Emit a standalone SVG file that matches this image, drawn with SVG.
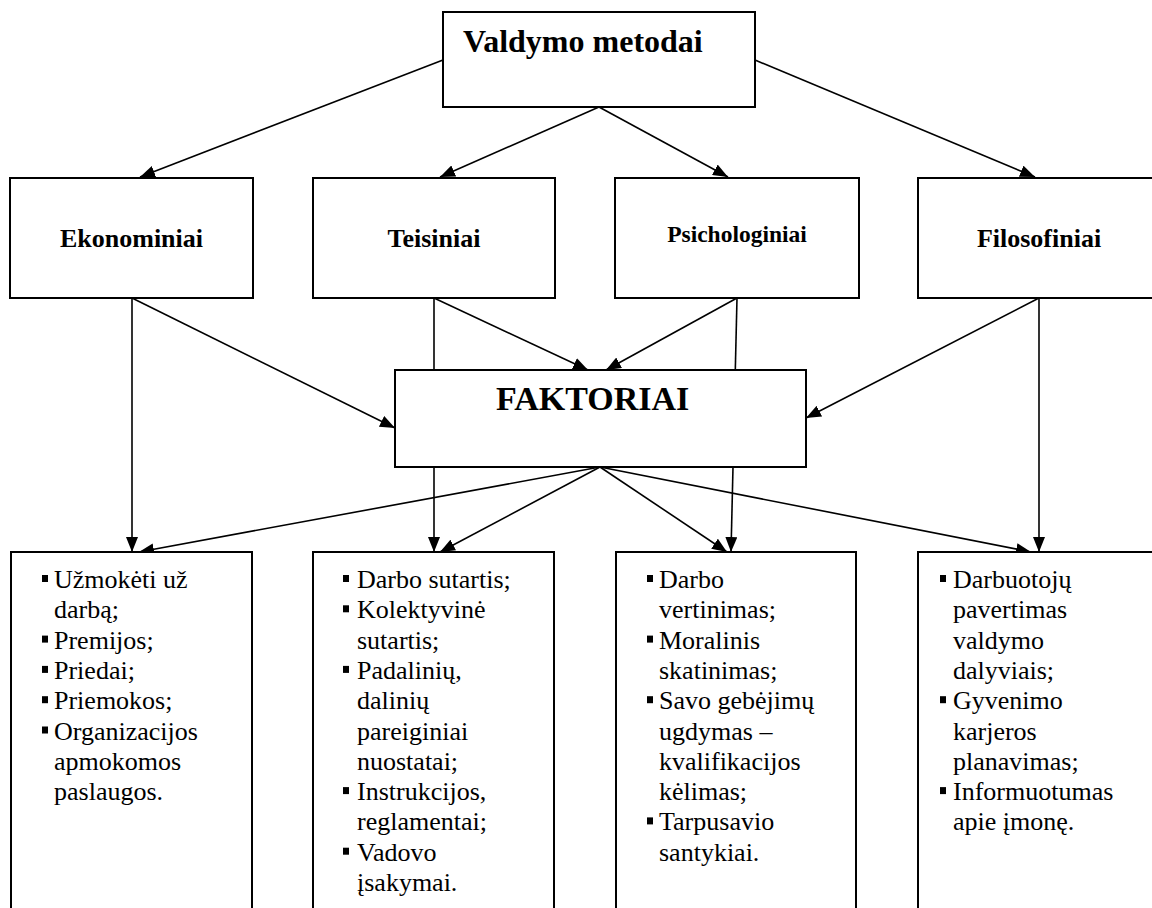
<svg xmlns="http://www.w3.org/2000/svg" width="1152" height="908" viewBox="0 0 1152 908">
<style>
.box{fill:#fff;stroke:#000;stroke-width:2}
.c{fill:none;stroke:#000;stroke-width:1.6}
.t{font-family:"Liberation Serif","Times New Roman",serif;fill:#000}
.b{font-weight:bold}
.li{font-size:26px}
.bul{fill:#000}
</style>
<defs>
<marker id="ah" markerUnits="userSpaceOnUse" markerWidth="16" markerHeight="12" refX="15" refY="6" orient="auto">
<path d="M0,0 L15,6 L0,12 z" fill="#000"/>
</marker>
</defs>
<g id="connectors">
<line class="c" x1="443" y1="60" x2="140" y2="177" marker-end="url(#ah)"/>
<line class="c" x1="599" y1="107" x2="440" y2="177" marker-end="url(#ah)"/>
<line class="c" x1="599" y1="107" x2="728" y2="177" marker-end="url(#ah)"/>
<line class="c" x1="755" y1="60" x2="1035" y2="177" marker-end="url(#ah)"/>
<line class="c" x1="132" y1="298" x2="132" y2="552" marker-end="url(#ah)"/>
<line class="c" x1="132" y1="298" x2="395" y2="428" marker-end="url(#ah)"/>
<line class="c" x1="434" y1="298" x2="434" y2="552" marker-end="url(#ah)"/>
<line class="c" x1="434" y1="298" x2="588" y2="370" marker-end="url(#ah)"/>
<line class="c" x1="737" y1="298" x2="731" y2="552" marker-end="url(#ah)"/>
<line class="c" x1="737" y1="298" x2="606" y2="370" marker-end="url(#ah)"/>
<line class="c" x1="1039" y1="298" x2="1039" y2="552" marker-end="url(#ah)"/>
<line class="c" x1="1039" y1="298" x2="806" y2="418" marker-end="url(#ah)"/>
<line class="c" x1="600" y1="467" x2="139" y2="552" marker-end="url(#ah)"/>
<line class="c" x1="600" y1="467" x2="440" y2="552" marker-end="url(#ah)"/>
<line class="c" x1="600" y1="467" x2="727" y2="552" marker-end="url(#ah)"/>
<line class="c" x1="600" y1="467" x2="1031" y2="552" marker-end="url(#ah)"/>
</g>
<g id="valdymo">
<rect class="box" x="443" y="12" width="312" height="95"/>
<text class="t b" x="463" y="52" font-size="32">Valdymo metodai</text>
</g>
<g id="ekonominiai">
<rect class="box" x="10" y="178" width="243" height="120"/>
<text class="t b" x="131.5" y="247" font-size="26" text-anchor="middle">Ekonominiai</text>
</g>
<g id="teisiniai">
<rect class="box" x="313" y="178" width="242" height="120"/>
<text class="t b" x="434" y="247" font-size="26" text-anchor="middle">Teisiniai</text>
</g>
<g id="psichologiniai">
<rect class="box" x="615" y="178" width="244" height="120"/>
<text class="t b" x="737" y="242" font-size="23.5" text-anchor="middle">Psichologiniai</text>
</g>
<g id="filosofiniai">
<rect class="box" x="918" y="178" width="242" height="120"/>
<text class="t b" x="1039" y="247" font-size="26" text-anchor="middle">Filosofiniai</text>
</g>
<g id="faktoriai">
<rect class="box" x="395" y="370" width="411" height="97"/>
<text class="t b" x="496" y="410" font-size="34">FAKTORIAI</text>
</g>
<g id="list-ekonominiai">
<rect class="box" x="11" y="552" width="241" height="370"/>
<rect class="bul" x="42" y="575" width="6" height="7"/>
<rect class="bul" x="42" y="635.6" width="6" height="7"/>
<rect class="bul" x="42" y="665.9" width="6" height="7"/>
<rect class="bul" x="42" y="696.2" width="6" height="7"/>
<rect class="bul" x="42" y="726.5" width="6" height="7"/>
<text class="t li"><tspan x="54" y="588">Užmokėti už</tspan><tspan x="54" y="618.3">darbą;</tspan><tspan x="54" y="648.6">Premijos;</tspan><tspan x="54" y="678.9">Priedai;</tspan><tspan x="54" y="709.2">Priemokos;</tspan><tspan x="54" y="739.5">Organizacijos</tspan><tspan x="54" y="769.8">apmokomos</tspan><tspan x="54" y="800.1">paslaugos.</tspan></text>
</g>
<g id="list-teisiniai">
<rect class="box" x="313" y="552" width="241" height="370"/>
<rect class="bul" x="343" y="575" width="6" height="7"/>
<rect class="bul" x="343" y="605.3" width="6" height="7"/>
<rect class="bul" x="343" y="665.9" width="6" height="7"/>
<rect class="bul" x="343" y="787.1" width="6" height="7"/>
<rect class="bul" x="343" y="847.7" width="6" height="7"/>
<text class="t li"><tspan x="357" y="588">Darbo sutartis;</tspan><tspan x="357" y="618.3">Kolektyvinė</tspan><tspan x="357" y="648.6">sutartis;</tspan><tspan x="357" y="678.9">Padalinių,</tspan><tspan x="357" y="709.2">dalinių</tspan><tspan x="357" y="739.5">pareiginiai</tspan><tspan x="357" y="769.8">nuostatai;</tspan><tspan x="357" y="800.1">Instrukcijos,</tspan><tspan x="357" y="830.4">reglamentai;</tspan><tspan x="357" y="860.7">Vadovo</tspan><tspan x="357" y="891">įsakymai.</tspan></text>
</g>
<g id="list-psichologiniai">
<rect class="box" x="616" y="552" width="240" height="370"/>
<rect class="bul" x="647" y="575" width="6" height="7"/>
<rect class="bul" x="647" y="635.6" width="6" height="7"/>
<rect class="bul" x="647" y="696.2" width="6" height="7"/>
<rect class="bul" x="647" y="817.4" width="6" height="7"/>
<text class="t li"><tspan x="659" y="588">Darbo</tspan><tspan x="659" y="618.3">vertinimas;</tspan><tspan x="659" y="648.6">Moralinis</tspan><tspan x="659" y="678.9">skatinimas;</tspan><tspan x="659" y="709.2">Savo gebėjimų</tspan><tspan x="659" y="739.5">ugdymas –</tspan><tspan x="659" y="769.8">kvalifikacijos</tspan><tspan x="659" y="800.1">kėlimas;</tspan><tspan x="659" y="830.4">Tarpusavio</tspan><tspan x="659" y="860.7">santykiai.</tspan></text>
</g>
<g id="list-filosofiniai">
<rect class="box" x="918" y="552" width="242" height="370"/>
<rect class="bul" x="940" y="575" width="6" height="7"/>
<rect class="bul" x="940" y="696.2" width="6" height="7"/>
<rect class="bul" x="940" y="787.1" width="6" height="7"/>
<text class="t li"><tspan x="953" y="588">Darbuotojų</tspan><tspan x="953" y="618.3">pavertimas</tspan><tspan x="953" y="648.6">valdymo</tspan><tspan x="953" y="678.9">dalyviais;</tspan><tspan x="953" y="709.2">Gyvenimo</tspan><tspan x="953" y="739.5">karjeros</tspan><tspan x="953" y="769.8">planavimas;</tspan><tspan x="953" y="800.1">Informuotumas</tspan><tspan x="953" y="830.4">apie įmonę.</tspan></text>
</g>
</svg>
